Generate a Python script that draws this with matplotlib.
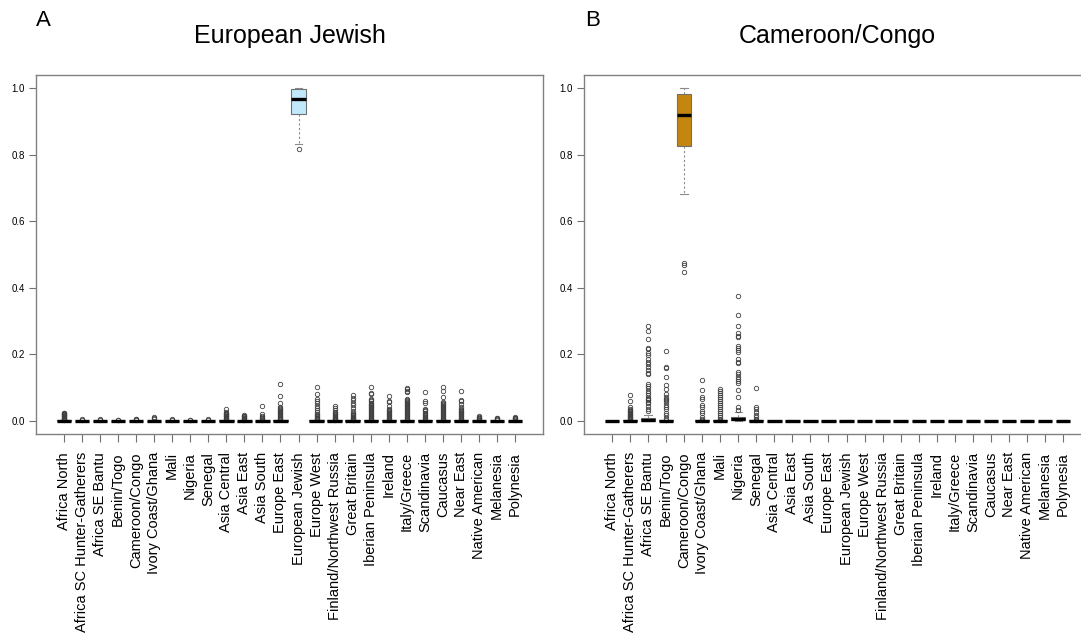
import numpy as np
import matplotlib.pyplot as plt

plt.rcParams['font.family'] = ['Liberation Sans', 'DejaVu Sans']

# Reference populations (x axis, same order in both panels)
regions = ['Africa North', 'Africa SC Hunter-Gatherers', 'Africa SE Bantu', 'Benin/Togo',
           'Cameroon/Congo', 'Ivory Coast/Ghana', 'Mali', 'Nigeria', 'Senegal',
           'Asia Central', 'Asia East', 'Asia South', 'Europe East', 'European Jewish',
           'Europe West', 'Finland/Northwest Russia', 'Great Britain', 'Iberian Peninsula',
           'Ireland', 'Italy/Greece', 'Scandinavia', 'Caucasus', 'Near East',
           'Native American', 'Melanesia', 'Polynesia']

# Panel A: European Jewish samples, box stats per region
a_med = [0, 0, 0, 0, 0, 0, 0, 0, 0, 0, 0, 0, 0, 0.967, 0, 0, 0, 0, 0, 0, 0, 0, 0, 0, 0, 0]
a_q1 = [0, 0, 0, 0, 0, 0, 0, 0, 0, 0, 0, 0, 0, 0.924, 0, 0, 0, 0, 0, 0, 0, 0, 0, 0, 0, 0]
a_q3 = [0.001, 0, 0, 0, 0, 0, 0, 0, 0, 0.001, 0, 0, 0.001, 0.997, 0.001, 0.001, 0.001, 0.001,
        0.001, 0.001, 0.001, 0.001, 0.001, 0, 0, 0]
a_lo = [0, 0, 0, 0, 0, 0, 0, 0, 0, 0, 0, 0, 0, 0.831, 0, 0, 0, 0, 0, 0, 0, 0, 0, 0, 0, 0]
a_hi = [0.002, 0.001, 0.001, 0.001, 0.001, 0.001, 0.001, 0.001, 0.001, 0.002, 0.001, 0.002,
        0.002, 1.0, 0.002, 0.002, 0.002, 0.002, 0.002, 0.002, 0.002, 0.002, 0.002,
        0.001, 0.001, 0.001]
a_fliers = [
    [0.003, 0.005, 0.006, 0.008, 0.009, 0.011, 0.013, 0.014, 0.016, 0.018, 0.019, 0.021, 0.023, 0.024],
    [0.003, 0.004],
    [0.003, 0.005],
    [0.002, 0.003],
    [0.003, 0.005, 0.006],
    [0.004, 0.007, 0.011],
    [0.003, 0.004],
    [0.002, 0.003],
    [0.003, 0.004],
    [0.004, 0.006, 0.008, 0.010, 0.013, 0.015, 0.017, 0.019, 0.021, 0.024, 0.026, 0.034],
    [0.003, 0.005, 0.007, 0.009, 0.011, 0.013, 0.015, 0.018],
    [0.003, 0.005, 0.007, 0.010, 0.013, 0.021, 0.045],
    [0.004, 0.006, 0.008, 0.011, 0.013, 0.016, 0.019, 0.022, 0.025, 0.028, 0.031, 0.035,
     0.038, 0.041, 0.052, 0.073, 0.111],
    [0.816],
    [0.004, 0.006, 0.009, 0.012, 0.015, 0.018, 0.021, 0.026, 0.031, 0.037, 0.045, 0.053,
     0.058, 0.065, 0.079, 0.102],
    [0.003, 0.005, 0.007, 0.009, 0.011, 0.014, 0.017, 0.020, 0.023, 0.026, 0.033, 0.039, 0.045],
    [0.003, 0.005, 0.007, 0.009, 0.011, 0.013, 0.016, 0.019, 0.022, 0.028, 0.039, 0.047,
     0.054, 0.061, 0.068, 0.076],
    [0.003, 0.005, 0.008, 0.011, 0.014, 0.017, 0.020, 0.023, 0.026, 0.029, 0.032, 0.035,
     0.038, 0.041, 0.044, 0.047, 0.050, 0.054, 0.058, 0.062, 0.065, 0.079, 0.084, 0.102],
    [0.003, 0.005, 0.008, 0.011, 0.014, 0.017, 0.020, 0.023, 0.026, 0.029, 0.032, 0.036,
     0.043, 0.056, 0.060, 0.075],
    [0.003, 0.005, 0.008, 0.011, 0.014, 0.017, 0.020, 0.023, 0.026, 0.029, 0.032, 0.035,
     0.038, 0.041, 0.044, 0.047, 0.050, 0.053, 0.056, 0.060, 0.063, 0.066, 0.087, 0.090,
     0.094, 0.097],
    [0.003, 0.005, 0.008, 0.011, 0.014, 0.017, 0.020, 0.024, 0.028, 0.031, 0.034, 0.053,
     0.058, 0.085],
    [0.003, 0.005, 0.008, 0.011, 0.014, 0.017, 0.020, 0.023, 0.026, 0.029, 0.032, 0.035,
     0.038, 0.041, 0.044, 0.047, 0.050, 0.053, 0.056, 0.072, 0.089, 0.102],
    [0.003, 0.005, 0.008, 0.011, 0.014, 0.017, 0.020, 0.023, 0.026, 0.029, 0.032, 0.036,
     0.041, 0.049, 0.058, 0.063, 0.088],
    [0.003, 0.005, 0.007, 0.009, 0.011, 0.013],
    [0.003, 0.005, 0.007, 0.009],
    [0.003, 0.005, 0.007, 0.009, 0.011],
]

# Panel B: Cameroon/Congo samples
b_med = [0, 0, 0.002, 0, 0.919, 0, 0, 0.004, 0, 0, 0, 0, 0, 0, 0, 0, 0, 0, 0, 0, 0, 0, 0, 0, 0, 0]
b_q1 = [0, 0, 0, 0, 0.826, 0, 0, 0.001, 0, 0, 0, 0, 0, 0, 0, 0, 0, 0, 0, 0, 0, 0, 0, 0, 0, 0]
b_q3 = [0, 0.002, 0.007, 0.001, 0.982, 0.001, 0.001, 0.012, 0.001, 0, 0, 0, 0, 0, 0, 0, 0, 0,
        0, 0, 0, 0, 0, 0, 0, 0]
b_lo = [0, 0, 0, 0, 0.683, 0, 0, 0, 0, 0, 0, 0, 0, 0, 0, 0, 0, 0, 0, 0, 0, 0, 0, 0, 0, 0]
b_hi = [0, 0.003, 0.016, 0.002, 1.0, 0.002, 0.002, 0.026, 0.002, 0, 0.001, 0, 0, 0.001, 0,
        0, 0, 0, 0, 0, 0.001, 0, 0, 0.001, 0, 0.001]
b_fliers = [
    [],
    [0.004, 0.006, 0.008, 0.010, 0.012, 0.014, 0.016, 0.018, 0.021, 0.023, 0.025, 0.028,
     0.030, 0.033, 0.036, 0.041, 0.058, 0.076],
    [0.028, 0.036, 0.044, 0.052, 0.057, 0.061, 0.065, 0.069, 0.077, 0.084, 0.089, 0.099,
     0.105, 0.111, 0.139, 0.145, 0.152, 0.162, 0.170, 0.176, 0.186, 0.198, 0.203, 0.215,
     0.220, 0.246, 0.271, 0.286],
    [0.003, 0.008, 0.016, 0.024, 0.034, 0.042, 0.048, 0.055, 0.061, 0.065, 0.071, 0.081,
     0.095, 0.107, 0.131, 0.160, 0.162, 0.209],
    [0.448, 0.467, 0.475],
    [0.003, 0.006, 0.012, 0.022, 0.030, 0.042, 0.048, 0.065, 0.071, 0.093, 0.123],
    [0.003, 0.006, 0.012, 0.018, 0.024, 0.030, 0.036, 0.042, 0.048, 0.054, 0.060, 0.065,
     0.071, 0.077, 0.083, 0.089, 0.095],
    [0.033, 0.041, 0.072, 0.092, 0.112, 0.120, 0.126, 0.132, 0.141, 0.147, 0.173, 0.178,
     0.185, 0.206, 0.213, 0.220, 0.226, 0.253, 0.256, 0.264, 0.286, 0.318, 0.374],
    [0.003, 0.006, 0.011, 0.018, 0.026, 0.035, 0.040, 0.099],
    [], [], [], [], [], [], [], [], [], [], [], [], [], [], [], [], [],
]

pos = np.arange(1, len(regions) + 1)


def panel(ax, med, q1, q3, lo, hi, fliers, color):
    stats = [dict(med=m, q1=a, q3=b, whislo=l, whishi=h, fliers=f)
             for m, a, b, l, h, f in zip(med, q1, q3, lo, hi, fliers)]
    ax.bxp(stats, positions=pos, widths=0.8, capwidths=0.4, patch_artist=True,
           boxprops=dict(facecolor=color, edgecolor='#707070', lw=0.8),
           medianprops=dict(color='black', lw=2.4, solid_capstyle='butt'),
           whiskerprops=dict(color='#8a8a8a', lw=0.8, ls=(0, (2, 2))),
           capprops=dict(color='#8a8a8a', lw=0.8),
           flierprops=dict(marker='o', ms=3.2, mfc='none', mec='#404040', mew=0.6))
    ax.set_xlim(-0.54, 27.54)
    ax.set_ylim(-0.04, 1.04)
    ax.set_yticks([0, 0.2, 0.4, 0.6, 0.8, 1.0])
    ax.set_yticklabels(['0.0', '0.2', '0.4', '0.6', '0.8', '1.0'], fontsize=7)
    ax.set_xticks(pos)
    ax.set_xticklabels(regions, rotation=90, fontsize=10.5, va='top', ha='center')
    ax.tick_params(axis='y', length=5, pad=3, color='#707070')
    ax.tick_params(axis='x', length=6, pad=7, color='#707070')
    for s in ax.spines.values():
        s.set_color('#808080')
        s.set_linewidth(1.0)


fig = plt.figure(figsize=(10.81, 6.35), dpi=100)

ax1 = fig.add_axes([36 / 1081, 1 - 434 / 635, 507 / 1081, 359 / 635])
panel(ax1, a_med, a_q1, a_q3, a_lo, a_hi, a_fliers, '#c2e9fb')

ax2 = fig.add_axes([584 / 1081, 1 - 434 / 635, 507 / 1081, 359 / 635])
panel(ax2, b_med, b_q1, b_q3, b_lo, b_hi, b_fliers, '#c4860f')

# Titles and panel letters
fig.text(290 / 1081, 1 - 36 / 635, 'European Jewish', ha='center', va='center', fontsize=18)
fig.text(837 / 1081, 1 - 36 / 635, 'Cameroon/Congo', ha='center', va='center', fontsize=18)
fig.text(43 / 1081, 1 - 21 / 635, 'A', ha='center', va='center', fontsize=16)
fig.text(593 / 1081, 1 - 21 / 635, 'B', ha='center', va='center', fontsize=16)

fig.savefig('out.png', dpi=100)
